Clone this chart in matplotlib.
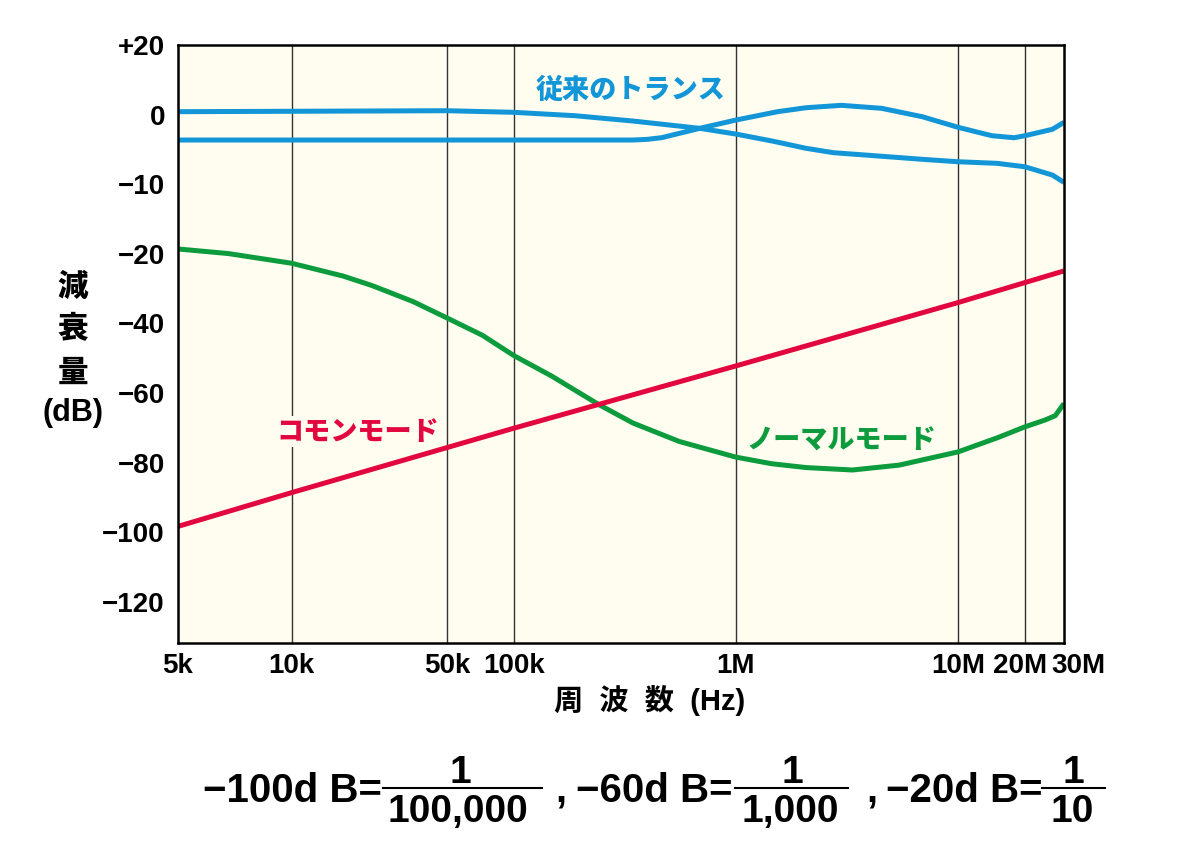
"""Attenuation vs frequency: conventional transformer vs common/normal mode."""

import numpy as np
import matplotlib

matplotlib.use("Agg")
import matplotlib.pyplot as plt
from matplotlib.lines import Line2D
from matplotlib.transforms import ScaledTranslation

W, H = 1182, 848

# ---- data (frequency in Hz, attenuation in dB) ----
trans_a_freq = [5e3, 5e4, 1e5, 1.89e5, 3.44e5, 6.87e5, 1e6, 1.47e6, 2.07e6, 2.75e6,
                3.8e6, 6.9e6, 1e7, 1.5e7, 2e7, 2.66e7, 3e7]
trans_a_db = [0.84, 1.12, 0.66, -0.16, -0.92, -1.97, -2.79, -3.82, -4.84, -5.47,
              -5.8, -6.42, -6.77, -7.0, -7.49, -8.68, -9.73]

trans_b_freq = [5e3, 1e5, 3.44e5, 4.0e5, 4.64e5, 6.87e5, 1e6, 1.54e6, 2.07e6, 2.98e6,
                4.53e6, 6.9e6, 1e7, 1.42e7, 1.79e7, 2e7, 2.66e7, 3e7]
trans_b_db = [-3.65, -3.65, -3.65, -3.55, -3.31, -1.97, -0.78, 0.84, 1.98, 2.67,
              1.81, -0.3, -1.82, -3.03, -3.32, -3.03, -2.11, -1.11]

normal_freq = [5e3, 6.8e3, 1e4, 1.71e4, 2.3e4, 3.52e4, 5e4, 7.23e4, 1e5, 1.49e5,
               1.89e5, 2.4e5, 3.44e5, 5.56e5, 1e6, 1.45e6, 2.07e6, 3.35e6, 5.43e6,
               1e7, 1.51e7, 2e7, 2.45e7, 2.74e7, 3e7]
normal_db = [-19.3, -19.96, -22.7, -26.4, -29.1, -33.7, -38.4, -43.4, -49.2, -55.2,
             -59.2, -63.2, -68.6, -73.9, -78.4, -80.3, -81.4, -82.1, -80.7,
             -76.9, -72.8, -69.7, -67.8, -66.5, -63.0]

common_freq = [5e3, 1e4, 1e5, 1e6, 1e7, 3e7]
common_db = [-98.3, -88.6, -70.1, -52.2, -34.0, -24.9]

y_ticks = [20, 0, -10, -20, -40, -60, -80, -100, -120]
y_labels = ["+20", "0", "−10", "−20", "−40", "−60", "−80", "−100", "−120"]
x_ticks = [5e3, 1e4, 5e4, 1e5, 1e6, 1e7, 2e7, 3e7]
x_labels = ["5k", "10k", "50k", "100k", "1M", "10M", "20M", "30M"]
grid_freqs = [1e4, 5e4, 1e5, 1e6, 1e7, 2e7]

BLUE = "#1296d8"
RED = "#e2073f"
GREEN = "#0c9b3d"
BG = "#fffdef"

LATIN = ["Liberation Sans", "Noto Sans CJK JP"]
JP = ["Noto Sans CJK JP", "DejaVu Sans"]

# ---- piecewise scales (the original axis is not uniform) ----
K_LOW = (113 / 221) / np.log10(2)


def x_forward(f):
    lf = np.log10(np.clip(np.asarray(f, dtype=float), 1e-12, None))
    return np.interp(lf, [0, 4, 10], [4 - 4 * K_LOW, 4, 10])


def x_inverse(p):
    return 10 ** np.interp(p, [4 - 4 * K_LOW, 4, 10], [0, 4, 10])


Y_DB = [-300, -20, -10, 0, 20, 200]
Y_POS = [-17, -3, -2, -1, 0, 9]


def y_forward(v):
    return np.interp(v, Y_DB, Y_POS)


def y_inverse(p):
    return np.interp(p, Y_POS, Y_DB)


fig = plt.figure(figsize=(W / 100, H / 100), dpi=100)
fig.patch.set_facecolor("white")
ax = fig.add_axes([178 / W, (H - 643) / H, 886 / W, 598 / H])
ax.set_facecolor(BG)

ax.set_xscale("function", functions=(x_forward, x_inverse))
ax.set_yscale("function", functions=(y_forward, y_inverse))
ax.set_xlim(5e3, 3e7)
ax.set_ylim(-131.8, 20)

for f in grid_freqs:
    ax.axvline(f, color="#333333", linewidth=1.0, zorder=1)

line_kw = dict(linewidth=3.6, zorder=4, solid_capstyle="butt", solid_joinstyle="round")
ax.plot(trans_a_freq, trans_a_db, color=BLUE, **line_kw)
ax.plot(trans_b_freq, trans_b_db, color=BLUE, **line_kw)
ax.plot(normal_freq, normal_db, color=GREEN, **line_kw)
ax.plot(common_freq, common_db, color=RED, **line_kw)

box = dict(facecolor=BG, edgecolor="none", pad=1)
label_kw = dict(fontsize=19.5, fontweight="heavy", family=JP, ha="center", va="center", zorder=3)
ax.text(3.36e5, 7.3, "従来のトランス", color=BLUE, **label_kw)
ax.text(1.99e4, -71.0, "コモンモード", color=RED, bbox=box, **label_kw)
ax.text(3.0e6, -73.5, "ノーマルモード", color=GREEN, **label_kw)

ax.set_yticks(y_ticks)
ax.set_yticklabels(y_labels)
ax.set_xticks(x_ticks)
ax.set_xticklabels(x_labels)
ax.minorticks_off()
ax.tick_params(axis="both", length=0)
ax.tick_params(axis="y", pad=9.4)
ax.tick_params(axis="x", pad=7)
for lab in ax.get_yticklabels() + ax.get_xticklabels():
    lab.set_family(LATIN)
    lab.set_fontsize(20)
    lab.set_fontweight("bold")
xlabs = ax.get_xticklabels()
xlabs[-1].set_transform(xlabs[-1].get_transform() + ScaledTranslation(14 / 100, 0, fig.dpi_scale_trans))
xlabs[-2].set_transform(xlabs[-2].get_transform() + ScaledTranslation(-5 / 100, 0, fig.dpi_scale_trans))

for side in ["left", "right", "top", "bottom"]:
    ax.spines[side].set_linewidth(1.8)
    ax.spines[side].set_color("black")
    ax.spines[side].set_zorder(5)


def ftext(x, y, s, **kw):
    return fig.text(x / W, 1 - y / H, s, **kw)


# y-axis label, stacked
for ch, yy in zip(["減", "衰", "量"], [286, 329, 372]):
    ftext(73, yy, ch, fontsize=22, fontweight="heavy", family=JP, ha="center", va="center")
ftext(73, 413, "(dB)", fontsize=22, fontweight="bold", family=LATIN, ha="center", va="center")

# x-axis label
ftext(650, 700, "周  波  数  (Hz)", fontsize=21, fontweight="bold", family=LATIN,
      ha="center", va="center")

# bottom formula
big = dict(fontsize=29, fontweight="bold", family=LATIN)
frac = dict(fontsize=28, fontweight="bold", family=LATIN, ha="center", va="baseline")
ftext(382, 802, "−100d B=", ha="right", va="baseline", **big)
ftext(733, 802, "−60d B=", ha="right", va="baseline", **big)
ftext(1043, 802, "−20d B=", ha="right", va="baseline", **big)
ftext(555, 802, ",", ha="left", va="baseline", **big)
ftext(866, 802, ",", ha="left", va="baseline", **big)

for x0, x1, num_x, den_x, den in [(383, 542, 460, 458, "100,000"),
                                   (735, 848, 792, 790, "1,000"),
                                   (1042, 1105, 1073, 1072, "10")]:
    fig.add_artist(Line2D([x0 / W, x1 / W], [1 - 788 / H] * 2, color="black",
                          linewidth=1.5, transform=fig.transFigure))
    ftext(num_x, 783, "1", **frac)
    ftext(den_x, 822, den, **frac)

fig.savefig("out.png", dpi=100)
plt.close(fig)
